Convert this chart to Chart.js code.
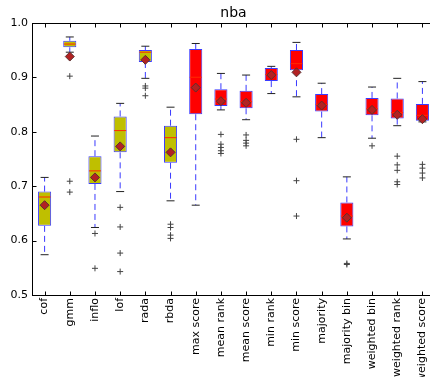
<!DOCTYPE html>
<html>
<head>
<meta charset="utf-8">
<script src="https://cdn.jsdelivr.net/npm/chart.js@4.4.1/dist/chart.umd.min.js"></script>
<style>
  html, body { margin:0; padding:0; overflow:hidden; background:#fff; }
  #wrap { position:absolute; left:0; top:0; }
</style>
</head>
<body>
<div id="wrap"><canvas id="box" width="467" height="390"></canvas></div>
<script>
/* ---------- data ---------- */
const categories = ['cof','gmm','inflo','lof','rada','rbda','max score','mean rank','mean score',
                    'min rank','min score','majority','majority bin','weighted bin','weighted rank','weighted score'];
const whiskHi = [0.716,0.974,0.792,0.852,0.957,0.845,0.962,0.907,0.904,0.920,0.964,0.889,0.717,0.882,0.898,0.892];
const q3      = [0.690,0.967,0.755,0.828,0.950,0.811,0.952,0.878,0.875,0.917,0.950,0.869,0.670,0.862,0.861,0.851];
const medians = [0.680,0.961,0.728,0.802,0.946,0.789,0.900,0.860,0.855,0.905,0.925,0.850,0.645,0.842,0.835,0.830];
const q1      = [0.627,0.955,0.704,0.762,0.928,0.743,0.832,0.847,0.843,0.893,0.913,0.837,0.626,0.830,0.824,0.820];
const whiskLo = [0.574,0.946,0.624,0.690,0.898,0.673,0.665,0.840,0.822,0.870,0.864,0.789,0.603,0.788,0.811,0.818];
const means   = [0.665,0.938,0.716,0.773,0.932,0.762,0.881,0.856,0.853,0.904,0.909,0.848,0.642,0.840,0.831,0.823];
const fliers  = [
  [], [0.902,0.709,0.689], [0.613,0.549], [0.661,0.625,0.577,0.543],
  [0.884,0.880,0.866], [0.630,0.624,0.610,0.604], [], [0.795,0.777,0.771,0.765,0.760],
  [0.794,0.784,0.779,0.774], [], [0.786,0.710,0.645], [],
  [0.558,0.556], [0.774], [0.755,0.739,0.729,0.708,0.703], [0.740,0.733,0.724,0.715]
];
const yTicks = [0.5,0.6,0.7,0.8,0.9,1.0];
const titleText = 'nba';

/* ---------- styles ---------- */
const YELLOW = '#bfbf00', RED = '#ff0000', EDGE = '#3a3aff';
const FONT = 'DejaVu Sans';
const boxColors = categories.map((c,i) => i < 6 ? YELLOW : RED);

/* ---------- derived point lists ---------- */
const whiskerPts = [];
categories.forEach((c,i) => {
  whiskerPts.push({x:c,y:q3[i]},{x:c,y:whiskHi[i]},{x:c,y:null});
  whiskerPts.push({x:c,y:q1[i]},{x:c,y:whiskLo[i]},{x:c,y:null});
});
const capPts   = categories.flatMap((c,i) => [{x:c,y:whiskHi[i]},{x:c,y:whiskLo[i]}]);
const medPts   = categories.map((c,i) => ({x:c,y:medians[i]}));
const meanPts  = categories.map((c,i) => ({x:c,y:means[i]}));
const flierPts = categories.flatMap((c,i) => fliers[i].map(v => ({x:c,y:v})));

function pts(style) {
  return Object.assign({type:'line', showLine:false, pointBorderWidth:1, pointHoverRadius:0}, style);
}

/* ---------- spines + inward ticks like matplotlib ---------- */
const spines = {
  id:'spines',
  afterDatasetsDraw(chart) {
    const {ctx, chartArea:a, scales} = chart;
    const L = Math.round(a.left)+0.5, R = Math.round(a.right)+0.5;
    const T = Math.round(a.top)+0.5,  B = Math.round(a.bottom)+0.5;
    ctx.save();
    ctx.strokeStyle = '#000';
    ctx.lineWidth = 1;
    ctx.strokeRect(L, T, R-L, B-T);
    ctx.beginPath();
    scales.x.ticks.forEach((t,i) => {
      const x = Math.round(scales.x.getPixelForTick(i))+0.5;
      ctx.moveTo(x, B); ctx.lineTo(x, B-4);
      ctx.moveTo(x, T); ctx.lineTo(x, T+4);
    });
    yTicks.forEach(v => {
      const y = Math.round(scales.y.getPixelForValue(v))+0.5;
      ctx.moveTo(L, y); ctx.lineTo(L+4, y);
      ctx.moveTo(R, y); ctx.lineTo(R-4, y);
    });
    ctx.stroke();
    ctx.restore();
  }
};

new Chart(document.getElementById('box'), {
  type:'bar',
  data:{
    labels:categories,
    datasets:[
      { type:'line', data:whiskerPts, borderColor:'#3a3aff', borderWidth:1, borderDash:[6,4],
        pointRadius:0, spanGaps:false, order:6 },
      pts({ data:capPts, pointStyle:'line', pointRadius:4, pointBorderColor:'#222', order:5 }),
      { data:categories.map((c,i) => [q1[i], q3[i]]), backgroundColor:boxColors, borderColor:EDGE,
        borderWidth:1, borderSkipped:false, barPercentage:0.52, categoryPercentage:1.0, order:4 },
      pts({ data:medPts, pointStyle:'line', pointRadius:6, pointBorderColor:'#ff2a00', order:3 }),
      pts({ data:flierPts, pointStyle:'cross', pointRadius:3, pointBorderColor:'#444', order:2 }),
      pts({ data:meanPts, pointStyle:'rectRot', pointRadius:4.5, pointBackgroundColor:'#b22222',
            pointBorderColor:'#5a3030', order:1 })
    ]
  },
  options:{
    responsive:false,
    animation:false,
    events:[],
    layout:{ padding:0 },
    plugins:{
      legend:{ display:false },
      tooltip:{ enabled:false },
      title:{ display:true, text:titleText, color:'#000',
              font:{ family:FONT, size:14, weight:'normal', lineHeight:1.2 },
              padding:{ top:5, bottom:1 } }
    },
    scales:{
      x:{
        grid:{ display:false, drawTicks:false }, border:{ display:false },
        ticks:{ color:'#000', font:{ family:FONT, size:11 }, minRotation:90, maxRotation:90,
                autoSkip:false, padding:3 },
        afterFit(s){ s.height = 95; }
      },
      y:{
        min:0.5, max:1.0,
        grid:{ display:false, drawTicks:false }, border:{ display:false },
        ticks:{ stepSize:0.1, color:'#000', font:{ family:FONT, size:11 }, padding:4,
                callback:v => v.toFixed(1) },
        afterFit(s){ s.width = 32; }
      },
      yRight:{
        position:'right', min:0.5, max:1.0,
        grid:{ display:false, drawTicks:false }, border:{ display:false },
        ticks:{ display:false },
        afterFit(s){ s.width = 32; }
      }
    }
  },
  plugins:[spines]
});
</script>
</body>
</html>
